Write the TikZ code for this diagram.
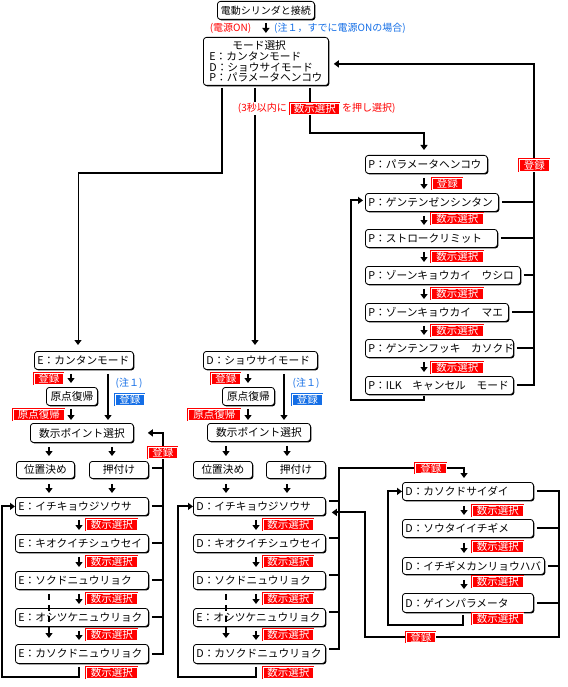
\documentclass[tikz,border=0pt]{standalone}
\usepackage{fontspec}
\setmainfont{Noto Sans CJK JP}
\usetikzlibrary{arrows.meta,shadows,calc}
\newcommand\fs[1]{\fontsize{#1}{#1}\selectfont}
\definecolor{lblue}{RGB}{20,110,230}
\newcommand\bx[8][box]{\node[#1, minimum width=#5pt, minimum height=#6pt, text width=#7pt] (#2) at (#3,#4) {#8};}
\newcommand\lb[7][lab]{\node[#1, minimum width=#5pt, minimum height=#6pt] (#2) at (#3,#4) {#7};}
\begin{document}
\begin{tikzpicture}[x=1pt,y=-1pt,
  box/.style={draw, line width=0.8pt, fill=white, rounded corners=3pt,
    drop shadow={shadow xshift=1pt, shadow yshift=-1pt, opacity=1, fill=black},
    inner xsep=3pt, inner ysep=0pt, font=\fs{10.7}, anchor=north west, align=left},
  cbox/.style={box, align=center},
  lab/.style={draw=red, fill=red, text=white, double=white, double distance=0.5pt,
    line width=0.6pt, inner sep=0pt, font=\fs{10.5}, anchor=north west},
  blab/.style={lab, draw=lblue, fill=lblue},
  ln/.style={line width=2pt},
  arr/.style={ln, -{Triangle[length=5pt,width=7pt]}},
  rtxt/.style={text=red, font=\fs{10}, inner sep=1pt},
  btxt/.style={text=lblue, font=\fs{10}, inner sep=1pt}
]
\useasboundingbox (0,0) rectangle (567,687);

% ---------- boxes ----------
\bx[cbox]{T}{217}{1}{97}{18}{91}{\fs{10}電動シリンダと接続}
\bx[box, inner xsep=6pt]{M}{203}{37}{125}{48}{113}{\hspace*{23pt}モード選択\\E：カンタンモード\\D：ショウサイモード\\P：パラメータヘンコウ}

\bx{P1}{365}{155}{122}{18}{116}{P：パラメータヘンコウ}
\bx{P2}{365}{193}{133}{18}{127}{P：ゲンテンゼンシンタン}
\bx{P3}{365}{229}{132}{18}{126}{P：ストロークリミット}
\bx{P4}{365}{266}{155}{18}{149}{P：ゾーンキョウカイ　ウシロ}
\bx{P5}{365}{303}{143}{18}{137}{P：ゾーンキョウカイ　マエ}
\bx{P6}{365}{339}{148}{18}{142}{P：ゲンテンフッキ　カソクド}
\bx{P7}{365}{376}{148}{18}{142}{P：ILK　キャンセル　モード}

\bx{Em}{34}{351}{99}{18}{93}{E：カンタンモード}
\bx[cbox]{Eg}{46}{387}{51}{18}{45}{原点復帰}
\bx[cbox]{Ep}{30}{423}{103}{19}{97}{数示ポイント選択}
\bx[cbox]{Ei}{16}{461}{58}{17}{52}{位置決め}
\bx[cbox]{Eo}{89}{461}{59}{17}{53}{押付け}
\bx{E1}{15}{497}{133}{18}{127}{E：イチキョウジソウサ}
\bx{E2}{15}{534}{133}{18}{127}{E：キオクイチシュウセイ}
\bx{E3}{15}{571}{133}{18}{127}{E：ソクドニュウリョク}
\bx{E4}{15}{608}{133}{18}{127}{E：オシツケニュウリョク}
\bx{E5}{15}{644}{133}{19}{127}{E：カソクドニュウリョク}

\bx{Dm}{203}{351}{114}{18}{108}{D：ショウサイモード}
\bx[cbox]{Dg}{222}{387}{52}{18}{46}{原点復帰}
\bx[cbox]{Dp}{207}{423}{103}{18}{97}{数示ポイント選択}
\bx[cbox]{Di}{193}{461}{59}{17}{53}{位置決め}
\bx[cbox]{Do}{266}{461}{59}{17}{53}{押付け}
\bx{D1}{193}{497}{132}{18}{126}{D：イチキョウジソウサ}
\bx{D2}{193}{534}{132}{18}{126}{D：キオクイチシュウセイ}
\bx{D3}{193}{571}{132}{18}{126}{D：ソクドニュウリョク}
\bx{D4}{193}{608}{132}{18}{126}{E：オシツケニュウリョク}
\bx{D5}{193}{644}{132}{19}{126}{D：カソクドニュウリョク}

\bx{R1}{402}{482}{131}{18}{125}{D：カソクドサイダイ}
\bx{R2}{402}{519}{131}{18}{125}{D：ソウタイイチギメ}
\bx{R3}{402}{557}{142}{17}{136}{D：イチギメカンリョウハバ}
\bx{R4}{402}{593}{131}{19}{125}{D：ゲインパラメータ}

% ---------- connectors ----------
\draw[arr, shorten <=3pt, shorten >=4pt] (T.south) -- (M.north);

\coordinate (mL) at (222,173); \coordinate (mL2) at (78,173); \coordinate (mL3) at (78,172);
\coordinate (mC) at (255,0);
\coordinate (mR) at (310,133); \coordinate (mR2) at (424,133);
\draw[ln, shorten <=2pt] (M.south -| mL) -- (mL) -- (mL2);
\draw[arr, line width=1pt, shorten >=6pt] (mL3) -- (Em.north -| mL3);
\draw[arr, shorten <=2pt, shorten >=6pt] (M.south -| mC) -- (Dm.north -| mC);
\draw[arr, shorten <=2pt, shorten >=5pt] (M.south -| mR) -- (mR) -- (mR2) -- (P1.north -| mR2);

% P chain
\coordinate (pA) at (424,0);
\foreach \a/\b in {P1/P2,P2/P3,P3/P4,P4/P5,P5/P6,P6/P7}
  \draw[arr, shorten <=4pt, shorten >=4pt] (\a.south -| pA) -- (\b.north -| pA);
\coordinate (pR) at (534,0);
\foreach \a in {P2,P3,P4,P5,P6}
  \draw[ln, shorten <=3pt] (\a.east) -- (\a.east -| pR);
\coordinate (Min) at ($(M.east)+(0,2.5)$);
\draw[arr, shorten <=3pt, shorten >=5pt] (P7.east) -- (P7.east -| pR) -- (pR |- Min) -- (Min);
\coordinate (pL1) at (424,400); \coordinate (pL2) at (351,400);
\coordinate (P2in) at ($(P2.west)+(0,-2)$);
\draw[arr, shorten <=1pt, shorten >=2pt] (P7.south -| pL1) -- (pL1) -- (pL2) |- (P2in);

% E column
\coordinate (e71) at (71,0); \coordinate (e108) at (108,0); \coordinate (e49) at (49,0);
\coordinate (e112) at (112,0); \coordinate (e79) at (79,0); \coordinate (e163) at (163,0);
\draw[arr, shorten <=4pt, shorten >=4pt] (Em.south -| e71) -- (Eg.north -| e71);
\draw[arr, shorten <=3pt, shorten >=3pt] (Eg.south -| e71) -- (Ep.north -| e71);
\draw[arr, shorten <=4pt, shorten >=3pt] (Em.south -| e108) -- (Ep.north -| e108);
\draw[arr, shorten <=4pt, shorten >=5pt] (Ep.south -| e49) -- (Ei.north -| e49);
\draw[arr, shorten <=4pt, shorten >=5pt] (Ep.south -| e112) -- (Eo.north -| e112);
\draw[arr, shorten <=5pt, shorten >=4pt] (Ei.south -| e49) -- (E1.north -| e49);
\draw[arr, shorten <=5pt, shorten >=4pt] (Eo.south -| e112) -- (E1.north -| e112);
\foreach \a/\b in {E1/E2,E2/E3,E3/E4,E4/E5}
  \draw[arr, shorten <=4pt, shorten >=4pt] (\a.south -| e79) -- (\b.north -| e79);
\draw[arr, dash pattern=on 6pt off 5pt, shorten <=4pt, shorten >=6pt] (E3.south -| e49) -- (E5.north -| e49);
\coordinate (eL1) at (79,677); \coordinate (eL2) at (2,677);
\draw[arr, shorten <=3pt] (E5.south -| eL1) -- (eL1) -- (eL2) |- (E1.west);
\foreach \a in {E1,E2,E3,E4}
  \draw[ln, shorten <=3pt] (\a.east) -- (\a.east -| e163);
\coordinate (Eoc) at ($(Eo.east)+(0,-2)$);
\draw[ln, shorten <=3pt] (Eoc) -- (Eoc -| e163);
\coordinate (Epin) at ($(Ep.east)+(14,0)$);
\draw[arr, shorten <=3pt] (E5.east) -- (E5.east -| e163) -- (e163 |- Epin) -- (Epin);

% D column
\coordinate (d248) at (248,0); \coordinate (d284) at (284,0); \coordinate (d226) at (226,0);
\coordinate (d287) at (287,0); \coordinate (d256) at (256,0); \coordinate (d339) at (339,0);
\draw[arr, shorten <=4pt, shorten >=4pt] (Dm.south -| d248) -- (Dg.north -| d248);
\draw[arr, shorten <=3pt, shorten >=3pt] (Dg.south -| d248) -- (Dp.north -| d248);
\draw[arr, shorten <=4pt, shorten >=3pt] (Dm.south -| d284) -- (Dp.north -| d284);
\draw[arr, shorten <=4pt, shorten >=5pt] (Dp.south -| d226) -- (Di.north -| d226);
\draw[arr, shorten <=4pt, shorten >=5pt] (Dp.south -| d287) -- (Do.north -| d287);
\draw[arr, shorten <=5pt, shorten >=4pt] (Di.south -| d226) -- (D1.north -| d226);
\draw[arr, shorten <=5pt, shorten >=4pt] (Do.south -| d287) -- (D1.north -| d287);
\foreach \a/\b in {D1/D2,D2/D3,D3/D4,D4/D5}
  \draw[arr, shorten <=4pt, shorten >=4pt] (\a.south -| d256) -- (\b.north -| d256);
\draw[arr, dash pattern=on 6pt off 5pt, shorten <=4pt, shorten >=6pt] (D3.south -| d226) -- (D5.north -| d226);
\coordinate (dL1) at (256,677); \coordinate (dL2) at (178,677);
\draw[arr, shorten <=3pt] (D5.south -| dL1) -- (dL1) -- (dL2) |- (D1.west);
\foreach \a in {D1,D2,D3,D4}
  \draw[ln, shorten <=3pt] ($(\a.east)+(0,-5)$) -- ($(\a.east -| d339)+(0,-5)$);
\coordinate (dT1) at (339,468); \coordinate (dT2) at (464,468);
\draw[arr, shorten <=3pt, shorten >=4pt] ($(D5.east)+(0,-5)$) -- ($(D5.east -| d339)+(0,-5)$) -- (dT1) -- (dT2) -- (R1.north -| dT2);

% R panel
\coordinate (r559) at (559,0); \coordinate (r464) at (464,0);
\foreach \a/\b in {R1/R2,R2/R3,R3/R4}
  \draw[arr, shorten <=5pt, shorten >=4pt] (\a.south -| r464) -- (\b.north -| r464);
\foreach \a in {R2,R3,R4}
  \draw[ln, shorten <=3pt] (\a.east) -- (\a.east -| r559);
\coordinate (rB1) at (559,637); \coordinate (rB2) at (365,637);
\coordinate (D1in) at ($(D1.east)+(6,6)$);
\draw[arr, shorten <=3pt] (R1.east) -- (R1.east -| r559) -- (rB1) -- (rB2) -- (rB2 |- D1in) -- (D1in);
\coordinate (rL1) at (463,625); \coordinate (rL2) at (388,625);
\draw[arr, shorten <=2pt] (R4.south -| rL1) -- (rL1) -- (rL2) |- (R1.west);

% ---------- texts and labels ----------
\node[rtxt] (tON) at (230.5,28) {(電源ON)};
\node[btxt, anchor=west] (tNote) at (273,28) {(注１，すでに電源ONの場合)};
\lb{l0}{290}{103}{49}{11}{数示選択}
\node[rtxt, anchor=east, fill=white] (t3a) at (288,108.5) {(3秒以内に};
\node[rtxt, anchor=west] (t3b) at (341,108.5) {を押し選択)};

\lb{lP1}{432}{178}{30}{11}{登録}
\lb{lP2}{431}{213}{52}{11}{数示選択}
\lb{lP3}{431}{251}{52}{11}{数示選択}
\lb{lP4}{431}{288}{52}{11}{数示選択}
\lb{lP5}{431}{325}{52}{11}{数示選択}
\lb{lP6}{431}{362}{52}{11}{数示選択}
\lb{lPR}{519}{159}{30}{12}{登録}

\lb{lE1}{34}{373}{29}{11}{登録}
\lb{lE2}{13}{409}{51}{11}{原点復帰}
\node[btxt] (nE) at (129,383) {(注１)};
\lb[blab]{lE3}{115}{394}{29}{11}{登録}
\lb{lE4}{148}{447}{29}{11}{登録}
\lb{lE5}{86}{519}{51}{11}{数示選択}
\lb{lE6}{86}{556}{51}{11}{数示選択}
\lb{lE7}{86}{593}{51}{11}{数示選択}
\lb{lE8}{86}{629}{51}{11}{数示選択}
\lb{lE9}{86}{667}{51}{11}{数示選択}

\lb{lD1}{211}{373}{29}{11}{登録}
\lb{lD2}{188}{409}{52}{11}{原点復帰}
\node[btxt] (nD) at (306,383) {(注１)};
\lb[blab]{lD3}{292}{394}{30}{11}{登録}
\lb{lD5}{263}{519}{50}{11}{数示選択}
\lb{lD6}{263}{556}{50}{11}{数示選択}
\lb{lD7}{263}{593}{50}{11}{数示選択}
\lb{lD8}{263}{629}{50}{11}{数示選択}
\lb{lD9}{263}{667}{50}{11}{数示選択}

\lb{lT}{415}{463}{31}{10}{登録}
\lb{lB}{406}{632}{29}{10}{登録}
\lb{lR1}{472}{505}{51}{11}{数示選択}
\lb{lR2}{472}{541}{51}{11}{数示選択}
\lb{lR3}{472}{576}{51}{11}{数示選択}
\lb{lR4}{472}{613}{51}{11}{数示選択}
\end{tikzpicture}
\end{document}
